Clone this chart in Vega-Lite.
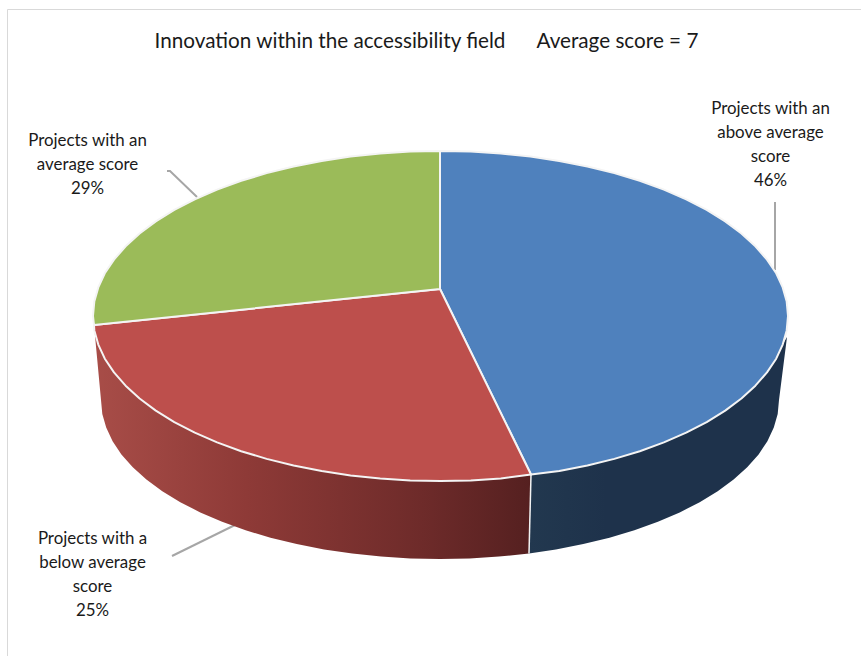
{
  "$schema": "https://vega.github.io/schema/vega-lite/v6.json",
  "width": 861,
  "height": 657,
  "padding": 0,
  "autosize": "none",
  "background": "white",
  "view": {"stroke": null},
  "title": {
    "text": "Innovation within the accessibility field\u00A0\u00A0\u00A0\u00A0\u00A0\u00A0Average score = 7",
    "font": "Lato",
    "fontSize": 20.7,
    "fontWeight": "normal",
    "color": "#1a1a1a",
    "anchor": "middle",
    "dx": -4,
    "offset": -53
  },
  "datasets": {
    "frame": [
      {"part": "frame", "x": -432.5, "y": -367},
      {"part": "frame", "x": -432.5, "y": 279.5},
      {"part": "frame", "x": 421, "y": 279.5}
    ],
    "leaders": [
      {"part": "average", "x": -273, "y": 118},
      {"part": "average", "x": -270, "y": 118},
      {"part": "average", "x": -243, "y": 92},
      {"part": "above", "x": 335, "y": 87},
      {"part": "above", "x": 335, "y": 19},
      {"part": "below", "x": -268, "y": -267},
      {"part": "below", "x": -205, "y": -236}
    ],
    "divider": [
      {"x": 91, "y": -185.5},
      {"x": 89, "y": -264.4}
    ],
    "redSide": [
      {"x": -346, "y": -36}, {"x": -345.7, "y": -41.4}, {"x": -341.7, "y": -55.6}, {"x": -335.2, "y": -69.7},
      {"x": -326, "y": -83.4}, {"x": -314.4, "y": -96.7}, {"x": -300.4, "y": -109.5}, {"x": -284.2, "y": -121.6},
      {"x": -265.7, "y": -133.1}, {"x": -245.2, "y": -143.7}, {"x": -222.9, "y": -153.4}, {"x": -198.8, "y": -162.2},
      {"x": -173.3, "y": -169.9}, {"x": -146.4, "y": -176.5}, {"x": -118.3, "y": -182.1}, {"x": -89.4, "y": -186.4},
      {"x": -59.8, "y": -189.5}, {"x": -29.8, "y": -191.4}, {"x": 0.5, "y": -192}, {"x": 30.8, "y": -191.4},
      {"x": 60.8, "y": -189.5}, {"x": 91, "y": -185.5}, {"x": 89, "y": -264.4}, {"x": 58.9, "y": -267.6},
      {"x": 29.6, "y": -269.4}, {"x": 0, "y": -270}, {"x": -29.6, "y": -269.4}, {"x": -58.9, "y": -267.6},
      {"x": -87.7, "y": -264.6}, {"x": -115.9, "y": -260.4}, {"x": -143.3, "y": -255.1}, {"x": -169.5, "y": -248.7},
      {"x": -194.4, "y": -241.3}, {"x": -217.9, "y": -232.8}, {"x": -239.7, "y": -223.4}, {"x": -259.7, "y": -213.2},
      {"x": -277.7, "y": -202.2}, {"x": -293.6, "y": -190.5}, {"x": -307.2, "y": -178.2}, {"x": -318.6, "y": -165.4},
      {"x": -327.4, "y": -152.2}, {"x": -333.8, "y": -138.6}, {"x": -337.7, "y": -124.9}, {"x": -339, "y": -111}
    ],
    "blueSide": [
      {"x": 91, "y": -185.5}, {"x": 119.3, "y": -182.1}, {"x": 147.4, "y": -176.5}, {"x": 174.3, "y": -169.9},
      {"x": 199.8, "y": -162.2}, {"x": 223.9, "y": -153.4}, {"x": 246.2, "y": -143.7}, {"x": 266.7, "y": -133.1},
      {"x": 285.2, "y": -121.6}, {"x": 301.4, "y": -109.5}, {"x": 315.4, "y": -96.7}, {"x": 327, "y": -83.4},
      {"x": 336.2, "y": -69.7}, {"x": 342.7, "y": -55.6}, {"x": 347, "y": -48}, {"x": 339, "y": -111},
      {"x": 337.7, "y": -124.9}, {"x": 333.8, "y": -138.6}, {"x": 327.4, "y": -152.2}, {"x": 318.6, "y": -165.4},
      {"x": 307.2, "y": -178.2}, {"x": 293.6, "y": -190.5}, {"x": 277.7, "y": -202.2}, {"x": 259.7, "y": -213.2},
      {"x": 239.7, "y": -223.4}, {"x": 217.9, "y": -232.8}, {"x": 194.4, "y": -241.3}, {"x": 169.5, "y": -248.7},
      {"x": 143.3, "y": -255.1}, {"x": 115.9, "y": -260.4}, {"x": 89, "y": -264.4}
    ],
    "wedges": [
      {"slice": "Above average", "x": 0, "y": 0}, {"slice": "Above average", "x": 0, "y": 138},
      {"slice": "Above average", "x": 30.8, "y": 137.4}, {"slice": "Above average", "x": 60.8, "y": 135.5},
      {"slice": "Above average", "x": 90.4, "y": 132.4}, {"slice": "Above average", "x": 119.3, "y": 128.1},
      {"slice": "Above average", "x": 147.4, "y": 122.5}, {"slice": "Above average", "x": 174.3, "y": 115.9},
      {"slice": "Above average", "x": 199.8, "y": 108.2}, {"slice": "Above average", "x": 223.9, "y": 99.4},
      {"slice": "Above average", "x": 246.2, "y": 89.7}, {"slice": "Above average", "x": 266.7, "y": 79.1},
      {"slice": "Above average", "x": 285.2, "y": 67.6}, {"slice": "Above average", "x": 301.4, "y": 55.5},
      {"slice": "Above average", "x": 315.4, "y": 42.7}, {"slice": "Above average", "x": 327, "y": 29.4},
      {"slice": "Above average", "x": 336.2, "y": 15.7}, {"slice": "Above average", "x": 342.7, "y": 1.6},
      {"slice": "Above average", "x": 346.7, "y": -12.6}, {"slice": "Above average", "x": 348, "y": -27},
      {"slice": "Above average", "x": 346.7, "y": -41.4}, {"slice": "Above average", "x": 342.7, "y": -55.6},
      {"slice": "Above average", "x": 336.2, "y": -69.7}, {"slice": "Above average", "x": 327, "y": -83.4},
      {"slice": "Above average", "x": 315.4, "y": -96.7}, {"slice": "Above average", "x": 301.4, "y": -109.5},
      {"slice": "Above average", "x": 285.2, "y": -121.6}, {"slice": "Above average", "x": 266.7, "y": -133.1},
      {"slice": "Above average", "x": 246.2, "y": -143.7}, {"slice": "Above average", "x": 223.9, "y": -153.4},
      {"slice": "Above average", "x": 199.8, "y": -162.2}, {"slice": "Above average", "x": 174.3, "y": -169.9},
      {"slice": "Above average", "x": 147.4, "y": -176.5}, {"slice": "Above average", "x": 119.3, "y": -182.1},
      {"slice": "Above average", "x": 91, "y": -185.5}, {"slice": "Above average", "x": 0, "y": 0},

      {"slice": "Below average", "x": 0, "y": 0}, {"slice": "Below average", "x": 91, "y": -185.5},
      {"slice": "Below average", "x": 60.8, "y": -189.5}, {"slice": "Below average", "x": 30.8, "y": -191.4},
      {"slice": "Below average", "x": 0.5, "y": -192}, {"slice": "Below average", "x": -29.8, "y": -191.4},
      {"slice": "Below average", "x": -59.8, "y": -189.5}, {"slice": "Below average", "x": -89.4, "y": -186.4},
      {"slice": "Below average", "x": -118.3, "y": -182.1}, {"slice": "Below average", "x": -146.4, "y": -176.5},
      {"slice": "Below average", "x": -173.3, "y": -169.9}, {"slice": "Below average", "x": -198.8, "y": -162.2},
      {"slice": "Below average", "x": -222.9, "y": -153.4}, {"slice": "Below average", "x": -245.2, "y": -143.7},
      {"slice": "Below average", "x": -265.7, "y": -133.1}, {"slice": "Below average", "x": -284.2, "y": -121.6},
      {"slice": "Below average", "x": -300.4, "y": -109.5}, {"slice": "Below average", "x": -314.4, "y": -96.7},
      {"slice": "Below average", "x": -326, "y": -83.4}, {"slice": "Below average", "x": -335.2, "y": -69.7},
      {"slice": "Below average", "x": -341.7, "y": -55.6}, {"slice": "Below average", "x": -345.7, "y": -41.4},
      {"slice": "Below average", "x": -346, "y": -36}, {"slice": "Below average", "x": 0, "y": 0},

      {"slice": "Average", "x": 0, "y": 0}, {"slice": "Average", "x": -346, "y": -36},
      {"slice": "Average", "x": -347, "y": -27}, {"slice": "Average", "x": -345.7, "y": -12.6},
      {"slice": "Average", "x": -341.7, "y": 1.6}, {"slice": "Average", "x": -335.2, "y": 15.7},
      {"slice": "Average", "x": -326, "y": 29.4}, {"slice": "Average", "x": -314.4, "y": 42.7},
      {"slice": "Average", "x": -300.4, "y": 55.5}, {"slice": "Average", "x": -284.2, "y": 67.6},
      {"slice": "Average", "x": -265.7, "y": 79.1}, {"slice": "Average", "x": -245.2, "y": 89.7},
      {"slice": "Average", "x": -222.9, "y": 99.4}, {"slice": "Average", "x": -198.8, "y": 108.2},
      {"slice": "Average", "x": -173.3, "y": 115.9}, {"slice": "Average", "x": -146.4, "y": 122.5},
      {"slice": "Average", "x": -118.3, "y": 128.1}, {"slice": "Average", "x": -89.4, "y": 132.4},
      {"slice": "Average", "x": -59.8, "y": 135.5}, {"slice": "Average", "x": -29.8, "y": 137.4},
      {"slice": "Average", "x": 0, "y": 138}, {"slice": "Average", "x": 0, "y": 0}
    ],
    "labels": [
      {"name": "Projects with an\nabove average\nscore", "share": 46, "x": 330.5, "y": 180},
      {"name": "Projects with a\nbelow average\nscore", "share": 25, "x": -347.5, "y": -250},
      {"name": "Projects with an\naverage score", "share": 29, "x": -352.5, "y": 148}
    ]
  },
  "encoding": {
    "x": {"field": "x", "type": "quantitative", "axis": null, "scale": {"domain": [-440, 421], "nice": false, "zero": false}},
    "y": {"field": "y", "type": "quantitative", "axis": null, "scale": {"domain": [-368, 289], "nice": false, "zero": false}}
  },
  "layer": [
    {
      "data": {"name": "frame"},
      "transform": [{"window": [{"op": "row_number", "as": "seq"}]}],
      "mark": {"type": "line", "color": "#D9D9D9", "strokeWidth": 1},
      "encoding": {"order": {"field": "seq", "type": "quantitative"}}
    },
    {
      "data": {"name": "leaders"},
      "transform": [{"window": [{"op": "row_number", "as": "seq"}]}],
      "mark": {"type": "line", "color": "#A6A6A6", "strokeWidth": 2},
      "encoding": {"detail": {"field": "part"}, "order": {"field": "seq", "type": "quantitative"}}
    },
    {
      "data": {"name": "redSide"},
      "transform": [{"window": [{"op": "row_number", "as": "seq"}]}],
      "mark": {
        "type": "line",
        "filled": true,
        "strokeWidth": 0,
        "fill": {
          "gradient": "linear", "x1": 0, "y1": 0, "x2": 1, "y2": 0,
          "stops": [
            {"offset": 0, "color": "#A84D48"},
            {"offset": 0.35, "color": "#8E3A37"},
            {"offset": 0.75, "color": "#6E2B2A"},
            {"offset": 1, "color": "#552020"}
          ]
        }
      },
      "encoding": {"order": {"field": "seq", "type": "quantitative"}}
    },
    {
      "data": {"name": "blueSide"},
      "transform": [{"window": [{"op": "row_number", "as": "seq"}]}],
      "mark": {
        "type": "line",
        "filled": true,
        "strokeWidth": 0,
        "fill": {
          "gradient": "linear", "x1": 0, "y1": 0, "x2": 1, "y2": 0,
          "stops": [
            {"offset": 0, "color": "#22384F"},
            {"offset": 0.3, "color": "#1E324B"},
            {"offset": 1, "color": "#1E324B"}
          ]
        }
      },
      "encoding": {"order": {"field": "seq", "type": "quantitative"}}
    },
    {
      "data": {"name": "divider"},
      "transform": [{"window": [{"op": "row_number", "as": "seq"}]}],
      "mark": {"type": "line", "color": "#F2F2F2", "strokeWidth": 1.5},
      "encoding": {"order": {"field": "seq", "type": "quantitative"}}
    },
    {
      "data": {"name": "wedges"},
      "transform": [{"window": [{"op": "row_number", "as": "seq"}]}],
      "mark": {"type": "line", "filled": true, "stroke": "#F4F4F4", "strokeWidth": 2, "strokeJoin": "round"},
      "encoding": {
        "color": {
          "field": "slice",
          "type": "nominal",
          "legend": null,
          "scale": {
            "domain": ["Above average", "Below average", "Average"],
            "range": ["#4F81BD", "#BD4F4C", "#9BBB59"]
          }
        },
        "detail": {"field": "slice"},
        "order": {"field": "seq", "type": "quantitative"}
      }
    },
    {
      "data": {"name": "labels"},
      "transform": [
        {"calculate": "datum.name + '\\n' + datum.share + '%'", "as": "caption"}
      ],
      "mark": {
        "type": "text",
        "font": "Lato",
        "fontSize": 16.9,
        "lineHeight": 24,
        "lineBreak": "\n",
        "align": "center",
        "baseline": "middle",
        "color": "#1a1a1a"
      },
      "encoding": {"text": {"field": "caption", "type": "nominal"}}
    }
  ]
}
